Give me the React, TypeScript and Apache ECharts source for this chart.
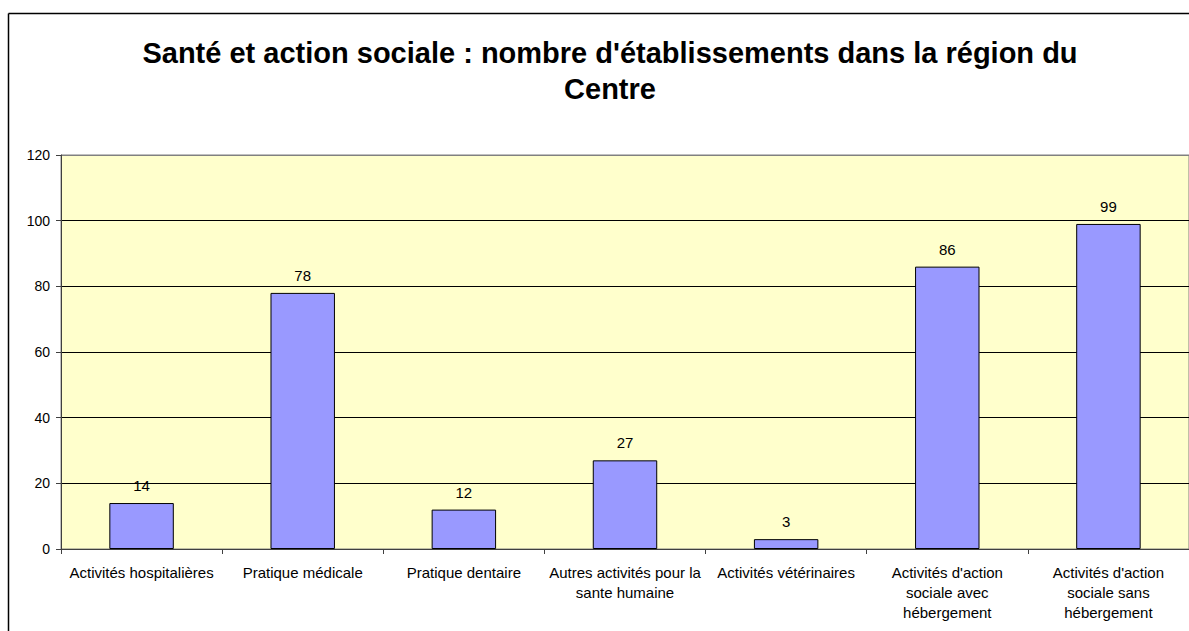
import React, { useEffect, useRef } from "react";
import * as echarts from "echarts";

const titleText = "Santé et action sociale : nombre d'établissements dans la région du\nCentre";
const categories = [
  "Activités hospitalières",
  "Pratique médicale",
  "Pratique dentaire",
  "Autres activités pour la\nsante humaine",
  "Activités vétérinaires",
  "Activités d'action\nsociale avec\nhébergement",
  "Activités d'action\nsociale sans\nhébergement",
];
const values = [14, 78, 12, 27, 3, 86, 99];
const yMin = 0;
const yMax = 120;
const yInterval = 20;

export default function App() {
  const ref = useRef<HTMLDivElement>(null);
  useEffect(() => {
    if (!ref.current) return;
    const chart = echarts.init(ref.current, undefined, { renderer: "svg" });
    const font = "Liberation Sans, Arial, sans-serif";
    chart.setOption({
      animation: false,
      backgroundColor: "#ffffff",
      title: {
        text: titleText,
        left: 605,
        top: 30,
        textAlign: "center",
        textStyle: {
          fontFamily: font,
          fontSize: 29,
          fontWeight: "bold",
          color: "#000",
          lineHeight: 36,
        },
      },
      grid: {
        left: 61,
        top: 155,
        width: 1130,
        height: 394,
        show: true,
        backgroundColor: "#FFFFCC",
        borderColor: "#808080",
        borderWidth: 1,
      },
      xAxis: {
        type: "category",
        data: categories,
        axisLine: { lineStyle: { color: "#404040", width: 1 } },
        axisTick: { show: true, length: 5, lineStyle: { color: "#404040" } },
        axisLabel: {
          interval: 0,
          margin: 13,
          fontFamily: font,
          fontSize: 15,
          lineHeight: 20,
          color: "#000",
        },
      },
      yAxis: {
        type: "value",
        min: yMin,
        max: yMax,
        interval: yInterval,
        axisLine: { show: true, lineStyle: { color: "#404040", width: 1 } },
        axisTick: { show: true, length: 5, lineStyle: { color: "#404040" } },
        axisLabel: {
          margin: 11,
          fontFamily: font,
          fontSize: 14,
          color: "#000",
        },
        splitLine: {
          show: true,
          lineStyle: {
            color: ["#000", "#000", "#000", "#000", "#000", "#000", "#808080"],
            width: 1,
          },
        },
      },
      series: [
        {
          type: "bar",
          data: values,
          barWidth: "40%",
          itemStyle: { color: "#9999FF", borderColor: "#000", borderWidth: 1 },
          label: {
            show: true,
            position: "top",
            distance: 10,
            fontFamily: font,
            fontSize: 15,
            color: "#000",
          },
        },
      ],
      graphic: [
        {
          type: "line",
          shape: { x1: 8.5, y1: 13.5, x2: 1189, y2: 13.5 },
          style: { stroke: "#000", lineWidth: 1.5 },
        },
        {
          type: "line",
          shape: { x1: 8.5, y1: 13.5, x2: 8.5, y2: 631 },
          style: { stroke: "#000", lineWidth: 1.5 },
        },
      ],
    });
    return () => chart.dispose();
  }, []);
  return (
    <div
      ref={ref}
      style={{ position: "fixed", left: 0, top: 0, width: 1189, height: 631 }}
    />
  );
}
